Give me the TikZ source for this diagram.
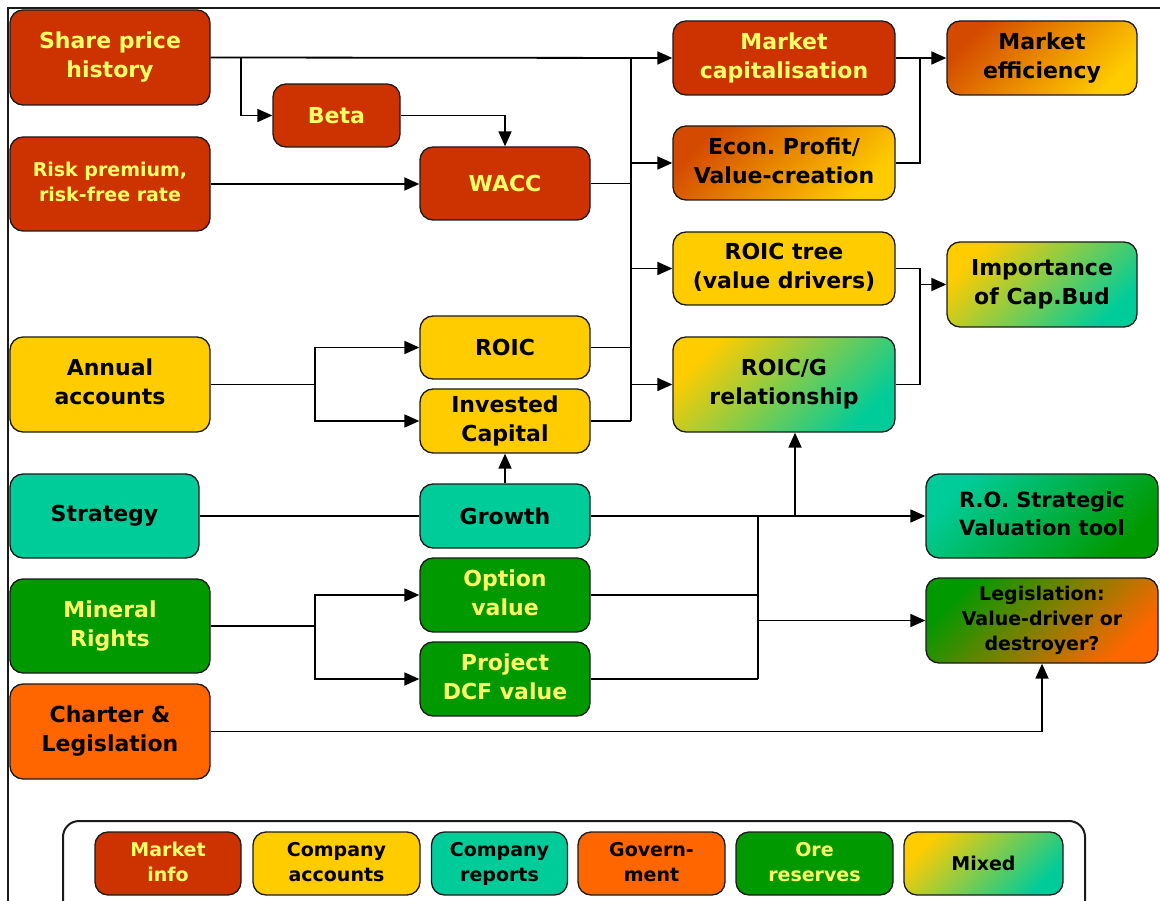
\documentclass[tikz,border=0pt]{standalone}
\usepackage{fontspec}
\setmainfont{DejaVu Sans}
\usetikzlibrary{arrows.meta}
\frenchspacing
\definecolor{mred}{HTML}{CC3300}
\definecolor{tyel}{HTML}{FFFF66}
\definecolor{cyel}{HTML}{FFCC00}
\definecolor{cteal}{HTML}{00CC99}
\definecolor{cgreen}{HTML}{009900}
\definecolor{corange}{HTML}{FF6600}
\definecolor{bord}{HTML}{1A1A1A}
\newcommand\mlt[1]{\lower3.5pt\hbox{\begin{tabular}{@{}c@{}}#1\end{tabular}}}
\tikzset{
  box/.style={draw=bord, line width=1.3pt, rounded corners=13pt, inner sep=0pt,
    font=\fontsize{22}{29}\selectfont\bfseries, text=black},
  wh/.style 2 args={minimum width=#1pt, minimum height=#2pt},
  mkt/.style={box, fill=mred, text=tyel},
  acc/.style={box, fill=cyel},
  rep/.style={box, fill=cteal},
  gov/.style={box, fill=corange},
  ore/.style={box, fill=cgreen, text=tyel},
  hot/.style={box, top color=mred!85!cyel, bottom color=cyel, shading angle=45},
  mix/.style={box, top color=cyel, bottom color=cteal, shading angle=45},
  rog/.style={box, top color=cteal, bottom color=cgreen, shading angle=45},
  lgs/.style={box, top color=cgreen, bottom color=corange, shading angle=45},
  small/.style={font=\fontsize{19}{25}\selectfont\bfseries},
  mid/.style={font=\fontsize{21}{28}\selectfont\bfseries},
  leg/.style={font=\fontsize{19}{25}\selectfont\bfseries, minimum height=63pt},
  ln/.style={line width=1.8pt, draw=black},
  arr/.style={ln, -{Triangle[length=15pt,width=13pt]}},
}
\begin{document}
\begin{tikzpicture}[x=1pt,y=-1pt]
\useasboundingbox (0,0) rectangle (1160,901);
% frame
\draw[line width=1.3pt, draw=bord] (1160,8) -- (8,8) -- (8,901);

% nodes
\node[mkt, wh={200}{95}] (sph) at (110,57.5) {\mlt{Share price\\history}};
\node[mkt, wh={127}{63}] (beta) at (336.5,115.5) {Beta};
\node[mkt, small, text=tyel, wh={200}{94}] (risk) at (110,184) {\mlt{Risk premium,\\risk-free rate}};
\node[mkt, wh={170}{73}] (wacc) at (505,183.5) {WACC};
\node[mkt, wh={222}{74}] (mcap) at (784,58) {\mlt{Market\\capitalisation}};
\node[hot, wh={190}{74}] (meff) at (1042,58) {\mlt{Market\\efficiency}};
\node[hot, wh={222}{74}] (econ) at (784,163) {\mlt{Econ. Profit/\\Value-creation}};
\node[acc, wh={222}{73}] (rtree) at (784,268.5) {\mlt{ROIC tree\\(value drivers)}};
\node[mix, wh={190}{85}] (imp) at (1042,284.5) {\mlt{Importance\\of Cap.Bud}};
\node[mix, wh={222}{95}] (roicg) at (784,384.5) {\mlt{ROIC/G\\relationship}};
\node[acc, wh={200}{95}] (annual) at (110,384.5) {\mlt{Annual\\accounts}};
\node[acc, wh={170}{63}] (roic) at (505,347.5) {ROIC};
\node[acc, wh={170}{64}] (ic) at (505,421) {\mlt{Invested\\Capital}};
\node[rep, wh={189}{84}] (strat) at (104.5,516) {Strategy};
\node[rep, wh={170}{64}] (growth) at (505,516) {Growth};
\node[rog, mid, wh={232}{84}] (ro) at (1042,516) {\mlt{R.O. Strategic\\Valuation tool}};
\node[ore, wh={200}{94}] (mineral) at (110,626) {\mlt{Mineral\\Rights}};
\node[ore, wh={170}{74}] (option) at (505,595) {\mlt{Option\\value}};
\node[ore, wh={170}{74}] (project) at (505,679) {\mlt{Project\\DCF value}};
\node[gov, wh={200}{95}] (charter) at (110,731.5) {\mlt{Charter \&\\Legislation}};
\node[lgs, small, wh={232}{85}] (legis) at (1042,620.5) {\mlt{Legislation:\\Value-driver or\\destroyer?}};

% junction coordinates
\coordinate (j1) at (241,57.5);
\coordinate (bx) at (631,0);
\coordinate (ax) at (315,0);
\coordinate (rx) at (920,0);
\coordinate (vx) at (758,0);
\coordinate (gx) at (795,0);

% connectors
\draw[arr] (sph.east) -- (mcap.west);
\draw[arr] (j1) |- (beta.west);
\draw[arr] (beta.east) -| (wacc.north);
\draw[arr] (risk.east) -- (risk.east -| wacc.west);
\draw[ln] (wacc.east) -- (wacc.east -| bx);
\draw[ln] (roic.east) -- (roic.east -| bx);
\draw[ln] (ic.east) -- (ic.east -| bx);
\draw[ln] (mcap.west -| bx) -- (ic.east -| bx);
\draw[arr] (econ.west -| bx) -- (econ.west);
\draw[arr] (rtree.west -| bx) -- (rtree.west);
\draw[arr] (roicg.west -| bx) -- (roicg.west);

\draw[ln] (annual.east) -- (annual.east -| ax);
\draw[arr] (annual.east -| ax) |- (roic.west);
\draw[arr] (annual.east -| ax) |- (ic.west);

\draw[arr] (growth.north) -- (ic.south);
\draw[ln] (strat.east) -- (growth.west);
\draw[arr] (growth.east) -- (ro.west);
\draw[arr] (gx |- growth.east) -- (gx |- roicg.south);

\draw[ln] (vx |- growth.east) -- (vx |- project.east);
\draw[ln] (option.east) -- (option.east -| vx);
\draw[ln] (project.east) -- (project.east -| vx);
\draw[arr] (vx |- legis.west) -- (legis.west);

\draw[ln] (mineral.east) -- (mineral.east -| ax);
\draw[arr] (mineral.east -| ax) |- (option.west);
\draw[arr] (mineral.east -| ax) |- (project.west);

\draw[arr] (charter.east) -| (legis.south);

\draw[arr] (mcap.east) -- (meff.west);
\draw[ln] (econ.east) -| (rx |- mcap.east);
\draw[ln] (rtree.east) -| (rx |- roicg.east) -- (roicg.east);
\draw[arr] (rx |- imp.west) -- (imp.west);

% legend
\begin{scope}
\clip (0,0) rectangle (1160,901);
\node[draw=bord, line width=2pt, rounded corners=16pt, minimum width=1022pt, minimum height=110pt, inner sep=0pt] (legend) at (574,876) {};
\end{scope}
\node[mkt, leg, text=tyel, wh={146}{63}] (l1) at (168,863.5) {\mlt{Market\\info}};
\node[acc, leg, wh={167}{63}] (l2) at (336.5,863.5) {\mlt{Company\\accounts}};
\node[rep, leg, wh={136}{63}] (l3) at (499.5,863.5) {\mlt{Company\\reports}};
\node[gov, leg, wh={147}{63}] (l4) at (651.5,863.5) {\mlt{Govern-\\ment}};
\node[ore, leg, text=tyel, wh={157}{63}] (l5) at (814.5,863.5) {\mlt{Ore\\reserves}};
\node[mix, leg, wh={159}{63}] (l6) at (983.5,863.5) {Mixed};
\end{tikzpicture}
\end{document}
